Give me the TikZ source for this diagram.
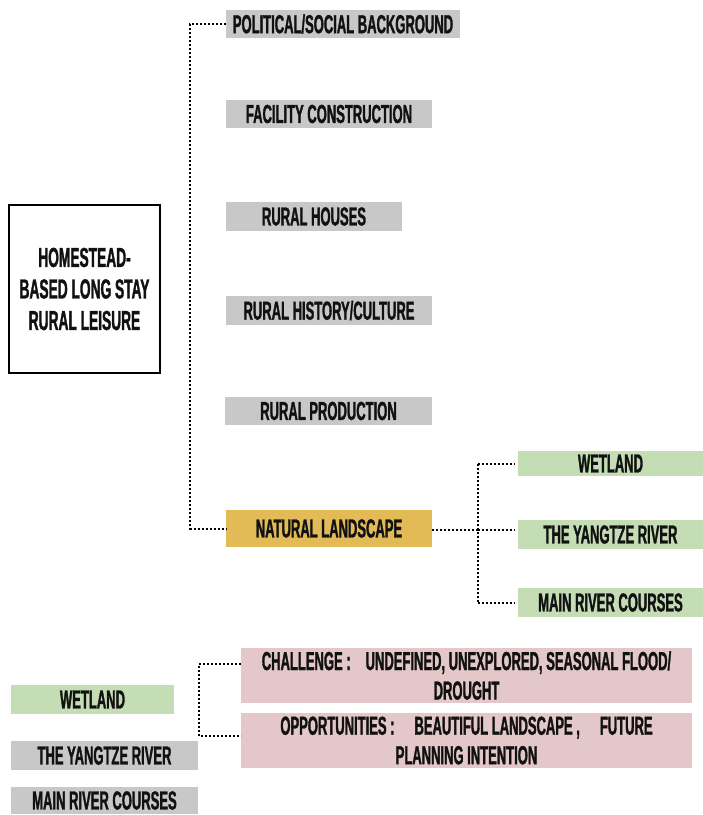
\documentclass[tikz,border=0pt]{standalone}
\usepackage{fontspec}
\newfontfamily\bebas{Liberation Sans}[FakeStretch=0.5,FakeBold=1.2]
\definecolor{boxgray}{RGB}{200,200,200}
\definecolor{boxgold}{RGB}{226,186,86}
\definecolor{boxgreen}{RGB}{196,221,181}
\definecolor{boxpink}{RGB}{228,199,200}
\definecolor{ink}{RGB}{17,17,17}
\tikzset{
  lbl/.style={inner sep=0pt, outer sep=0pt, text=ink, font=\bebas\bfseries\fontsize{26}{29.5}\selectfont, align=center},
  graybox/.style={lbl, fill=boxgray},
  goldbox/.style={lbl, fill=boxgold},
  greenbox/.style={lbl, fill=boxgreen},
  pinkbox/.style={lbl, fill=boxpink},
  mainbox/.style={lbl, draw=black, line width=2pt, fill=white, font=\bebas\bfseries\fontsize{27.5}{31.5}\selectfont},
  dotline/.style={draw=black, line width=2pt, dash pattern=on 2pt off 2pt}
}
\begin{document}
\begin{tikzpicture}[x=1pt,y=-1pt]
\useasboundingbox (0,0) rectangle (703,815);
% main box
\node[mainbox, minimum width=151pt, minimum height=168pt] (main) at (84.5,289) {HOMESTEAD-\\BASED LONG STAY\\RURAL LEISURE};
% first column
\node[graybox, minimum width=234pt, minimum height=28pt] (pol) at (343,24) {POLITICAL/SOCIAL BACKGROUND};
\node[graybox, minimum width=206pt, minimum height=28pt] (fac) at (329,114) {FACILITY CONSTRUCTION};
\node[graybox, minimum width=176pt, minimum height=29pt] (hou) at (314,216.5) {RURAL HOUSES};
\node[graybox, minimum width=206pt, minimum height=29pt] (his) at (329,310.5) {RURAL HISTORY/CULTURE};
\node[graybox, minimum width=207pt, minimum height=28pt] (pro) at (328.5,411) {RURAL PRODUCTION};
\node[goldbox, minimum width=206pt, minimum height=37pt] (nat) at (329,528.5) {NATURAL LANDSCAPE};
% second column
\node[greenbox, minimum width=185pt, minimum height=25pt] (wet) at (610.5,463.5) {WETLAND};
\node[greenbox, minimum width=185pt, minimum height=29pt] (yan) at (610.5,534.5) {THE YANGTZE RIVER};
\node[greenbox, minimum width=185pt, minimum height=29pt] (riv) at (610.5,602.5) {MAIN RIVER COURSES};
% bottom part
\node[greenbox, minimum width=163pt, minimum height=29pt] (bwet) at (92.5,699.5) {WETLAND};
\node[graybox, minimum width=187pt, minimum height=29pt] (byan) at (104.5,755.5) {THE YANGTZE RIVER};
\node[graybox, minimum width=187pt, minimum height=27pt] (briv) at (104.5,800.5) {MAIN RIVER COURSES};
\node[pinkbox, minimum width=451pt, minimum height=55pt] (chal) at (466.5,675.5) {CHALLENGE :\hspace{15pt}UNDEFINED, UNEXPLORED, SEASONAL FLOOD/\\DROUGHT};
\node[pinkbox, minimum width=451pt, minimum height=55pt] (opp) at (466.5,740.5) {OPPORTUNITIES :\hspace{20pt}BEAUTIFUL LANDSCAPE ,\hspace{20pt}FUTURE\\PLANNING INTENTION};
% connectors
\coordinate (t1) at (190,24);
\coordinate (t2) at (190,528.5);
\draw[dotline] (pol.west) -- (t1) -- (t2) -- (nat.west);
\coordinate (r1) at (478,463.5);
\coordinate (r2) at (478,530);
\coordinate (r3) at (478,602.5);
\draw[dotline] (nat.east |- r2) -- (r2);
\draw[dotline, shorten >=3pt] (r2) -- (yan.west |- r2);
\draw[dotline, shorten >=3pt] (r1) -- (wet.west);
\draw[dotline, shorten >=3pt] (r3) -- (riv.west);
\draw[dotline] (r1) -- (r3);
\coordinate (b1) at (199,664);
\coordinate (b2) at (199,736);
\draw[dotline] (chal.west |- b1) -- (b1) -- (b2) -- (opp.west |- b2);
\end{tikzpicture}
\end{document}
